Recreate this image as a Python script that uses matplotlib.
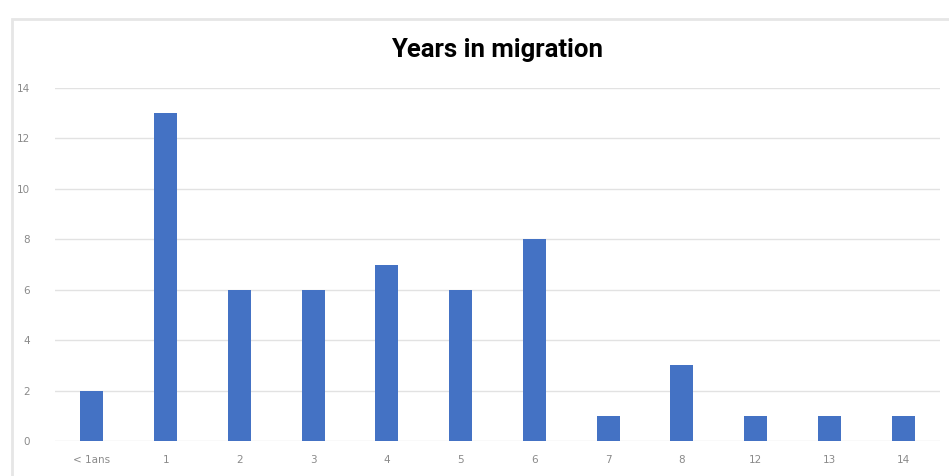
import matplotlib
matplotlib.use("Agg")
import matplotlib.pyplot as plt
from matplotlib.patches import Rectangle

categories = ["< 1ans", "1", "2", "3", "4", "5", "6", "7", "8", "12", "13", "14"]
counts = [2, 13, 6, 6, 7, 6, 8, 1, 3, 1, 1, 1]
y_ticks = [0, 2, 4, 6, 8, 10, 12, 14]

fig = plt.figure(figsize=(9.49, 4.76), dpi=100)
fig.patch.set_facecolor("white")

# light outer frame of the chart box
fig.patches.append(Rectangle((12 / 949, -0.05), 1.0, 1 - 19 / 476 + 0.05,
                             transform=fig.transFigure, fill=False,
                             edgecolor="#e6e6e6", linewidth=2.0))

ax = fig.add_axes([55 / 949, (476 - 441) / 476, (940 - 55) / 949, (441 - 88) / 476])
x = list(range(len(categories)))
ax.bar(x, counts, width=0.31, color="#4472C4", zorder=3)

ax.set_xlim(-0.5, len(categories) - 0.5)
ax.set_ylim(0, 14)
ax.set_yticks(y_ticks)
ax.set_yticklabels([str(v) for v in y_ticks])
ax.set_xticks(x)
ax.set_xticklabels(categories)
ax.grid(axis="y", color="#e2e2e2", linewidth=1.0, zorder=0)
for s in ax.spines.values():
    s.set_visible(False)
ax.tick_params(axis="both", length=0, colors="#8a8a8a", labelsize=7.5)
ax.tick_params(axis="x", pad=10)
ax.tick_params(axis="y", pad=18)

fig.text(0.524, 1 - 50 / 476, "Years in migration", ha="center", va="center",
         fontsize=18.5, fontweight="bold", family="Roboto", color="black")

fig.savefig("out.png", dpi=100)
